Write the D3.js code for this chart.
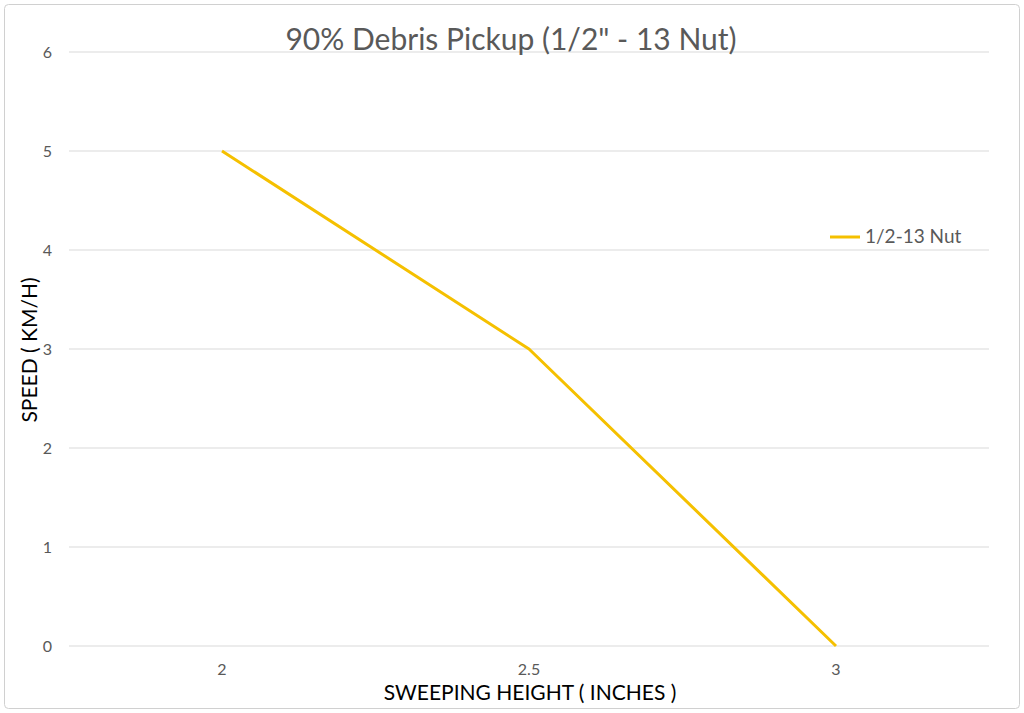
<!DOCTYPE html>
<html><head><meta charset="utf-8">
<script src="https://cdn.jsdelivr.net/npm/d3@7"></script>
<style>body{margin:0;background:#fff}svg{display:block}text{font-family:Lato,"Liberation Sans",Arial,sans-serif}</style>
</head><body><svg id="c" width="1024" height="713"></svg>
<script>
const categories = ["2","2.5","3"];
const speeds = [5,3,0];
const yTicks = [0,1,2,3,4,5,6];
const seriesName = "1/2-13 Nut";

const svg = d3.select("#c");
svg.append("rect").attr("x",4.5).attr("y",4.5).attr("width",1015).attr("height",704)
  .attr("rx",4).attr("fill","#fff").attr("stroke","#d0d0d0");
const x = d3.scalePoint().domain(categories).range([222,836]);
const y = d3.scaleLinear().domain([0,6]).range([646,52]);
const L=69, R=989;
svg.append("g").selectAll("line").data(yTicks).join("line")
  .attr("x1",L).attr("x2",R).attr("y1",d=>y(d)).attr("y2",d=>y(d))
  .attr("stroke","#d9d9d9").attr("stroke-width",1);
svg.append("g").selectAll("text").data(yTicks).join("text")
  .attr("x",52).attr("y",d=>y(d)+6).attr("text-anchor","end")
  .attr("font-size",16).attr("fill","#595959").text(d=>d);
svg.append("g").selectAll("text").data(categories).join("text")
  .attr("x",d=>x(d)).attr("y",675).attr("text-anchor","middle")
  .attr("font-size",16).attr("fill","#595959").text(d=>d);
const line = d3.line().x((d,i)=>x(categories[i])).y(d=>y(d));
svg.append("path").datum(speeds).attr("d",line).attr("fill","none")
  .attr("stroke","#F5C000").attr("stroke-width",3).attr("stroke-linejoin","round");
svg.append("text").attr("x",511).attr("y",50).attr("text-anchor","middle")
  .attr("font-size",30).attr("fill","#595959").text('90% Debris Pickup (1/2" - 13 Nut)');
svg.append("text").attr("x",530).attr("y",700).attr("text-anchor","middle")
  .attr("font-size",21).attr("fill","#000").text("SWEEPING HEIGHT ( INCHES )");
svg.append("text").attr("transform","translate(37,350) rotate(-90)").attr("text-anchor","middle")
  .attr("font-size",21).attr("fill","#000").text("SPEED ( KM/H)");
svg.append("line").attr("x1",830).attr("x2",860).attr("y1",237).attr("y2",237)
  .attr("stroke","#F5C000").attr("stroke-width",3);
svg.append("text").attr("x",865).attr("y",243).attr("font-size",19).attr("fill","#595959").text(seriesName);
</script></body></html>
